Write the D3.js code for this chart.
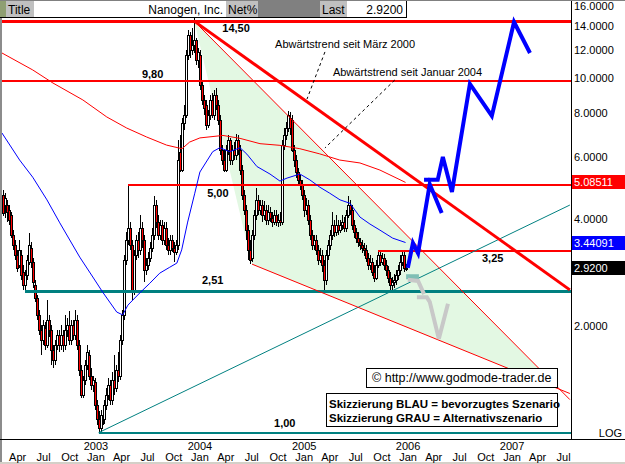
<!DOCTYPE html>
<html>
<head>
<meta charset="utf-8">
<title>Nanogen, Inc.</title>
<script src="https://cdn.jsdelivr.net/npm/d3@7/dist/d3.min.js"></script>
<style>
	body { margin:0; background:#fff }
	svg { display:block; font-family:'Liberation Sans', Arial, sans-serif }
</style>
</head>
<body>
<script>
//----
//Data
//----
var title = 'Nanogen, Inc.'
var lastClose = 2.92
var firstWeek = '2002-02-08'

//weekly candles [open, high, low, close]
var ohlc = [
	[4.68,4.84,4.09,4.17],[4.39,4.74,4.04,4.60],[4.39,4.54,3.93,4.20],[4.25,4.39,3.86,3.98],[4.12,4.20,3.54,3.61],
	[3.61,3.73,3.28,3.38],[3.38,3.50,3.07,3.17],[3.17,3.28,2.84,2.92],[2.97,3.50,2.92,3.28],[3.17,3.28,2.70,2.79],
	[2.84,2.97,2.53,2.61],[2.61,2.88,2.51,2.79],[2.79,3.17,2.70,3.07],[3.03,3.66,2.97,3.38],[3.32,3.45,2.92,3.03],
	[3.03,3.11,2.56,2.66],[2.61,2.70,2.34,2.40],[2.40,2.45,2.08,2.15],[2.15,2.22,1.89,1.95],[1.95,2.01,1.66,1.83],
	[1.83,2.08,1.77,2.01],[1.98,2.05,1.71,1.77],[1.77,2.37,1.73,2.08],[2.08,2.15,1.86,1.95],[1.95,2.01,1.55,1.71],
	[1.71,1.77,1.52,1.60],[1.60,1.83,1.55,1.77],[1.77,1.95,1.71,1.89],[1.89,1.95,1.69,1.77],[1.77,2.01,1.71,1.89],
	[1.89,1.95,1.69,1.77],[1.77,2.15,1.71,1.95],[1.95,2.11,1.86,2.01],[2.01,2.20,1.77,1.83],[1.83,2.08,1.77,2.01],
	[2.01,2.08,1.83,1.89],[1.89,2.22,1.83,2.08],[2.08,2.15,1.71,1.77],[1.77,1.83,1.45,1.50],[1.50,1.55,1.25,1.28],
	[1.28,1.45,1.25,1.41],[1.41,1.60,1.36,1.55],[1.55,1.77,1.50,1.69],[1.66,1.71,1.41,1.45],[1.45,1.52,1.32,1.36],
	[1.36,1.45,1.30,1.41],[1.39,1.43,1.16,1.20],[1.20,1.24,1.05,1.09],[1.09,1.15,1.00,1.03],[1.03,1.16,1.00,1.12],
	[1.12,1.18,1.05,1.09],[1.09,1.24,1.06,1.20],[1.20,1.34,1.16,1.28],[1.28,1.43,1.24,1.36],[1.36,1.41,1.20,1.24],
	[1.24,1.48,1.20,1.41],[1.41,1.66,1.28,1.34],[1.34,1.55,1.30,1.50],[1.50,1.69,1.39,1.45],[1.45,1.89,1.41,1.83],
	[1.83,2.22,1.77,2.15],[2.15,3.17,2.08,3.07],[3.07,3.68,2.97,3.50],[3.50,5.00,3.38,3.78],[3.78,3.93,3.28,3.38],
	[3.38,3.50,2.37,2.53],[2.53,3.28,2.45,3.17],[3.17,3.61,3.07,3.50],[3.50,3.68,3.11,3.28],[3.28,4.12,3.17,3.78],
	[3.78,3.93,3.32,3.50],[3.50,3.61,2.66,2.88],[2.88,3.11,2.79,2.97],[2.97,3.23,2.88,3.11],[3.11,3.45,3.03,3.32],
	[3.32,3.78,3.23,3.61],[3.61,4.66,3.50,4.39],[4.39,4.54,3.78,3.93],[3.93,4.12,3.50,3.61],[3.61,3.98,3.50,3.86],
	[3.86,3.98,3.38,3.50],[3.50,3.93,3.38,3.78],[3.78,3.93,3.28,3.38],[3.38,3.54,3.17,3.28],[3.28,3.61,3.17,3.50],
	[3.50,3.61,3.23,3.32],[3.32,3.45,3.03,3.23],[3.23,3.50,3.17,3.38],[3.38,6.70,3.28,5.88],[6.20,6.92,5.44,5.51],
	[5.51,7.73,5.44,7.48],[7.48,8.41,7.15,7.88],[7.88,12.02,7.73,11.64],[11.64,13.69,11.26,13.25],[13.25,13.52,11.41,12.02],
	[12.02,13.87,11.64,12.42],[12.42,15.00,11.80,12.83],[12.83,13.00,10.90,11.26],[11.26,12.20,10.70,11.90],[11.64,12.02,9.27,9.57],
	[9.57,9.89,8.41,8.69],[8.69,8.97,7.88,8.25],[8.41,8.69,7.15,7.38],[7.38,8.14,7.24,7.88],[7.88,8.97,7.63,8.69],
	[8.69,9.09,7.73,7.88],[7.88,9.27,7.63,8.97],[8.97,9.39,8.14,8.41],[8.41,8.69,7.38,7.63],[7.63,7.88,6.07,6.27],
	[6.27,6.48,5.69,5.88],[5.88,6.27,5.44,5.51],[5.51,6.48,5.44,6.27],[6.27,6.92,6.07,6.70],[6.70,6.80,5.69,5.88],
	[5.88,6.48,5.69,6.27],[6.27,6.61,5.88,6.07],[6.07,6.97,5.88,6.70],[6.70,6.92,6.07,6.27],[6.27,6.48,5.33,5.51],
	[5.51,5.69,4.54,4.68],[4.68,4.84,4.12,4.25],[4.25,4.39,3.50,3.73],[3.73,3.86,3.07,3.28],[3.28,3.50,2.99,3.07],
	[3.11,3.73,3.03,3.61],[3.61,4.25,3.50,4.12],[4.12,4.90,3.98,4.54],[4.54,4.68,4.12,4.25],[4.25,4.54,4.12,4.39],
	[4.39,4.54,3.93,4.12],[4.12,4.51,3.98,4.25],[4.25,4.39,3.86,3.98],[3.98,4.39,3.86,4.20],[4.20,4.33,3.93,4.04],
	[4.04,4.20,3.81,3.93],[3.93,4.25,3.86,4.12],[4.12,4.25,3.83,3.93],[3.93,4.14,3.81,3.98],[3.98,4.20,3.83,3.93],
	[3.93,6.70,3.86,6.48],[6.48,7.24,6.27,6.92],[6.92,7.53,6.70,7.24],[7.24,8.09,7.06,7.88],[7.73,8.03,6.92,7.24],
	[7.63,7.88,6.20,6.27],[6.27,6.48,5.62,5.88],[5.88,6.07,5.23,5.44],[5.44,5.58,5.00,5.17],[5.17,5.33,4.84,5.00],
	[5.00,5.17,4.54,4.68],[4.68,4.84,4.06,4.25],[4.25,4.60,4.12,4.39],[4.39,4.54,3.86,3.98],[3.98,4.12,3.50,3.61],
	[3.61,3.73,3.28,3.38],[3.38,3.61,3.28,3.50],[3.50,3.61,3.17,3.28],[3.28,3.38,2.97,3.07],[3.07,3.32,3.01,3.17],
	[3.17,3.28,2.84,2.97],[2.97,3.07,2.51,2.70],[2.70,3.28,2.61,3.17],[3.17,3.50,3.07,3.38],[3.38,3.73,3.28,3.61],
	[3.61,4.20,3.50,3.86],[3.86,3.98,3.57,3.68],[3.68,4.12,3.59,3.86],[3.86,3.98,3.61,3.73],[3.73,3.98,3.66,3.86],
	[3.86,4.12,3.73,3.93],[3.93,4.06,3.68,3.78],[3.78,4.25,3.68,4.12],[4.12,4.66,4.04,4.39],[4.39,4.54,4.12,4.25],
	[4.25,4.39,3.73,3.86],[3.86,3.98,3.54,3.68],[3.68,3.78,3.43,3.54],[3.54,3.68,3.35,3.45],[3.45,3.54,3.28,3.38],
	[3.38,3.50,3.21,3.32],[3.32,3.43,3.15,3.28],[3.28,3.38,3.03,3.11],[3.11,3.21,2.88,2.97],[2.97,3.17,2.88,3.03],
	[3.03,3.11,2.77,2.84],[2.84,2.97,2.66,2.73],[2.73,3.07,2.70,2.97],[2.97,3.25,2.92,3.17],[3.17,3.23,2.95,3.03],
	[3.03,3.21,2.97,3.11],[3.11,3.19,2.88,2.97],[2.97,3.07,2.77,2.88],[2.88,2.95,2.64,2.73],[2.73,2.84,2.53,2.61],
	[2.61,2.75,2.51,2.66],[2.66,2.81,2.56,2.70],[2.70,2.88,2.61,2.79],[2.79,2.97,2.70,2.88],[2.88,3.17,2.79,3.03],
	[3.03,3.23,2.95,3.17],[3.17,3.23,2.84,2.92],[2.92,3.00,2.86,2.92]
]

//moving averages [date, value]
var maRed = [
	['2002-02-05',11.79],['2002-05-24',10.56],['2002-08-03',9.70],['2002-11-16',8.69],['2003-02-08',7.78],
	['2003-04-19',7.24],['2003-06-28',6.83],['2003-09-06',6.48],['2003-10-30',6.33],['2003-11-26',6.61],
	['2004-01-01',6.79],['2004-03-22',6.90],['2004-05-21',6.77],['2004-07-30',6.54],['2004-10-08',6.47],
	['2004-12-17',6.33],['2005-02-25',6.12],['2005-05-06',5.88],['2005-07-16',5.77],['2005-09-24',5.51],
	['2005-12-23',5.08511]
]
var maBlue = [
	['2002-02-05',7.01],['2002-04-08',5.88],['2002-05-24',5.26],['2002-07-13',4.54],['2002-08-27',3.91],
	['2002-11-05',3.13],['2002-12-21',2.75],['2003-01-25',2.49],['2003-03-15',2.19],['2003-04-05',2.15],
	['2003-04-23',2.29],['2003-06-04',2.48],['2003-07-09',2.64],['2003-08-13',2.82],['2003-09-17',2.93],
	['2003-10-12',3.01],['2003-10-29',3.28],['2003-11-19',3.93],['2003-12-14',4.74],['2004-01-01',5.44],
	['2004-02-15',6.21],['2004-03-11',6.37],['2004-04-15',6.21],['2004-05-21',6.37],['2004-06-14',6.11],
	['2004-07-19',5.64],['2004-09-03',5.37],['2004-10-08',5.13],['2004-11-02',5.23],['2004-12-17',5.37],
	['2005-01-21',5.17],['2005-02-25',4.93],['2005-04-01',4.74],['2005-05-07',4.54],['2005-06-11',4.44],
	['2005-07-16',4.06],['2005-08-20',3.88],['2005-09-24',3.73],['2005-11-08',3.54],['2005-12-23',3.44091]
]

//horizontal support / resistance levels
var redLevels = [14.5, 9.8, 5.0, 3.25]
var redLevelFrom = [null, null, '2003-04-25', '2005-09-16']
var tealLevels = [2.51, 1.0]
var tealLevelFrom = ['2002-04-26', '2003-01-10']
var levelNames = ['14,50', '9,80', '5,00', '3,25', '2,51', '1,00']

//trend lines [date, value]
var trendMaerz2000 = [['2003-12-12',14.5],['2007-07-23',2.53]]
var trendJanuar2004 = [['2003-12-12',14.5],['2007-07-23',1.24]]
var trendLower = [['2004-07-02',2.99],['2007-07-23',1.29]]
var trendUp = [['2003-01-10',1.0],['2007-07-23',4.39]]
var channel = [['2003-12-12',14.5],['2004-07-02',2.99],['2007-06-14',1.33]]

//scenario sketches
var blueA = [['2005-12-31',2.92],['2006-01-18',3.43],['2006-02-05',3.21],['2006-03-18',5.03],['2006-04-29',4.17]]
var blueB = [['2006-02-26',5.17],['2006-04-15',5.17],['2006-05-03',6.00],['2006-06-04',4.78],['2006-08-06',9.64],
	['2006-10-22',7.83],['2007-01-08',14.42],['2007-03-05',11.79]]
var grayA = [['2005-12-31',2.70],['2006-02-05',2.68],['2006-02-26',2.46]]
var grayB = [['2006-02-01',2.41],['2006-03-08',2.41],['2006-03-18',2.34],['2006-04-19',1.84],['2006-05-21',2.31]]
var tealZone = [['2005-12-25',2.80],['2006-02-08',2.71]]

//annotation leaders
var leaderMaerz = [['2005-03-15',11.87],['2005-01-11',8.74]]
var leaderJanuar = [['2005-11-15',9.89],['2005-03-15',6.36]]
var noteTexts = ['Abwärtstrend seit März 2000', 'Abwärtstrend seit Januar 2004']

var yTicks = [16, 14, 12, 10, 8, 6, 4, 2]
var monthNames = ['Jan','Feb','Mar','Apr','May','Jun','Jul','Aug','Sep','Oct','Nov','Dec']
var credit = '\u00a9 http://www.godmode-trader.de'
var legendLines = ['Skizzierung BLAU = bevorzugtes Szenario', 'Skizzierung GRAU = Alternativszenario']

//------
//Layout
//------
var W = 625, H = 464
var plotL = 2, plotR = 571, plotB = 439
var parse = d3.timeParse('%Y-%m-%d')

var x = d3.scaleTime()
	.domain([new Date(2002,0,1), new Date(2008,0,1)])
	.range([-8, 616])
var y = d3.scaleLog()
	.domain([1, 16])
	.range([432.7, 6])

var line = d3.line()
	.x(function(d){ return x(parse(d[0])) })
	.y(function(d){ return y(d[1]) })

var svg = d3.select('body').append('svg')
	.attr('width', W)
	.attr('height', H)

svg.append('rect').attr('width', W).attr('height', H).attr('fill', '#fff')

svg.append('clipPath').attr('id','clip')
	.append('rect').attr('x', plotL).attr('y', 0).attr('width', plotR - plotL).attr('height', plotB)

var gPlot = svg.append('g').attr('clip-path','url(#clip)')

//Green channel
gPlot.append('path')
	.attr('d', line(channel) + 'Z')
	.attr('fill', '#e3f8e3')

//Candles
var candles = ohlc.map(function(d, i){
	return { date: d3.timeDay.offset(parse(firstWeek), 7 * i), o: d[0], h: d[1], l: d[2], c: d[3] }
})
var gCandle = gPlot.append('g').attr('shape-rendering','crispEdges')
candles.forEach(function(d){
	var px = Math.round(x(d.date))
	var top = Math.round(y(Math.max(d.o, d.c)))
	var bot = Math.round(y(Math.min(d.o, d.c)))
	var g = gCandle.append('g')
	g.append('line')
		.attr('x1', px + 0.5).attr('x2', px + 0.5)
		.attr('y1', Math.round(y(d.h))).attr('y2', Math.round(y(d.l)))
		.attr('stroke', '#000')
	g.append('rect')
		.attr('x', px - 0.5).attr('width', 2)
		.attr('y', top + 0.5).attr('height', Math.max(1, bot - top))
		.attr('fill', d.c < d.o ? '#ff0000' : '#fff')
		.attr('stroke', '#000')
})

//Horizontal levels, drawn as filled bands so they stay crisp
function hLine(v, from, color, width){
	var x0 = from ? Math.round(x(parse(from))) : plotL
	var yy = Math.round(y(v) - width / 2)
	gPlot.append('rect')
		.attr('x', x0).attr('width', plotR - x0)
		.attr('y', yy).attr('height', width)
		.attr('fill', color)
}
redLevels.forEach(function(v, i){ hLine(v, redLevelFrom[i], '#ff0000', i == 0 ? 3 : 2) })
hLine(tealLevels[0], tealLevelFrom[0], '#008080', 3)
hLine(tealLevels[1], tealLevelFrom[1], '#008080', 2)

//Moving averages
gPlot.append('path').attr('d', line(maRed)).attr('fill','none').attr('stroke','#ff0000').attr('stroke-width',1)
gPlot.append('path').attr('d', line(maBlue)).attr('fill','none').attr('stroke','#0000ff').attr('stroke-width',1)

//Trend lines
gPlot.append('path').attr('d', line(trendUp)).attr('fill','none').attr('stroke','#008080').attr('stroke-width',1)
gPlot.append('path').attr('d', line(trendLower)).attr('fill','none').attr('stroke','#ff0000').attr('stroke-width',1)
gPlot.append('path').attr('d', line(trendJanuar2004)).attr('fill','none').attr('stroke','#ff0000').attr('stroke-width',1)
gPlot.append('path').attr('d', line(trendMaerz2000)).attr('fill','none').attr('stroke','#ff0000').attr('stroke-width',3)

//Scenario sketches
var z0 = tealZone[0], z1 = tealZone[1]
gPlot.append('rect')
	.attr('x', x(parse(z0[0]))).attr('width', x(parse(z1[0])) - x(parse(z0[0])))
	.attr('y', y(z0[1])).attr('height', y(z1[1]) - y(z0[1]))
	.attr('fill', '#7fbfb4')
;[grayA, grayB].forEach(function(s){
	gPlot.append('path').attr('d', line(s)).attr('fill','none')
		.attr('stroke','#c8c8c8').attr('stroke-width',4).attr('stroke-linejoin','miter')
})
;[blueA, blueB].forEach(function(s){
	gPlot.append('path').attr('d', line(s)).attr('fill','none')
		.attr('stroke','#0000ff').attr('stroke-width',4).attr('stroke-linejoin','miter')
})

//Leaders and notes
;[leaderMaerz, leaderJanuar].forEach(function(s){
	gPlot.append('path').attr('d', line(s)).attr('fill','none')
		.attr('stroke','#000').attr('stroke-width',1).attr('stroke-dasharray','3,3')
})
var notePos = [['2004-09-21', 12.18], ['2005-04-12', 10.15]]
noteTexts.forEach(function(t, i){
	gPlot.append('text')
		.attr('x', x(parse(notePos[i][0]))).attr('y', y(notePos[i][1]))
		.attr('font-size', 11).text(t)
})

//Level labels: [date of centre, value, dy]
var levelLabelPos = [
	['2004-05-07', redLevels[0], 11],
	['2003-07-19', redLevels[1], -3],
	['2004-03-04', redLevels[2], 12],
	['2006-10-25', redLevels[3], 11],
	['2004-02-15', tealLevels[0], -7],
	['2004-10-25', tealLevels[1], -6]
]
levelNames.forEach(function(t, i){
	var p = levelLabelPos[i]
	gPlot.append('text')
		.attr('x', x(parse(p[0]))).attr('y', y(p[1]) + p[2])
		.attr('text-anchor','middle').attr('font-size', 11).attr('font-weight','bold')
		.text(t)
})

//Text boxes
svg.append('rect').attr('x', 366.5).attr('y', 368.5).attr('width', 191).attr('height', 19)
	.attr('fill','#fff').attr('stroke','#000').attr('shape-rendering','crispEdges')
svg.append('text').attr('x', 372).attr('y', 382).attr('font-size', 12.5).text(credit)

svg.append('rect').attr('x', 326.5).attr('y', 393.5).attr('width', 231).attr('height', 33)
	.attr('fill','#fff').attr('stroke','#000').attr('shape-rendering','crispEdges')
legendLines.forEach(function(t, i){
	svg.append('text').attr('x', 329).attr('y', 408 + i * 14)
		.attr('font-size', 11.5).attr('font-weight','bold').text(t)
})

//-----
//Frame
//-----
svg.append('rect').attr('x', 0).attr('y', 0).attr('width', 2).attr('height', H).attr('fill', '#8c8c8c')
svg.append('line').attr('x1', plotR + 0.5).attr('x2', plotR + 0.5).attr('y1', 0).attr('y2', plotB)
	.attr('stroke','#000').attr('shape-rendering','crispEdges')
svg.append('line').attr('x1', 0).attr('x2', W).attr('y1', plotB + 0.5).attr('y2', plotB + 0.5)
	.attr('stroke','#000').attr('shape-rendering','crispEdges')
svg.append('rect').attr('x', 0).attr('y', H - 2).attr('width', W).attr('height', 2).attr('fill', '#d4d0c8')

//Right axis
var gY = svg.append('g').attr('font-size', 11)
yTicks.forEach(function(v){
	gY.append('text').attr('x', plotR + 3).attr('y', y(v)).attr('dy', '0.35em').text(v.toFixed(4))
})
var markers = [[maRed[maRed.length - 1][1], '#ff0000', 5], [maBlue[maBlue.length - 1][1], '#0000ff', 5], [lastClose, '#000', 4]]
markers.forEach(function(m){
	var yy = Math.round(y(m[0]))
	gY.append('rect').attr('x', plotR + 1).attr('y', yy - 7).attr('width', W - plotR - 1).attr('height', 14).attr('fill', m[1])
	gY.append('text').attr('x', plotR + 3).attr('y', yy).attr('dy', '0.35em').attr('fill', '#fff').text(m[0].toFixed(m[2]))
})
gY.append('text').attr('x', W - 3).attr('y', 437).attr('text-anchor','end').text('LOG')

//Time axis
var gX = svg.append('g').attr('font-size', 11).attr('text-anchor','middle')
d3.timeMonth.every(3).range(new Date(2002,3,1), new Date(2007,7,1)).forEach(function(d){
	var xx = x(d)
	gX.append('text').attr('x', xx).attr('y', 461).text(monthNames[d.getMonth()])
	if ( d.getMonth() == 0 ){
		gX.append('text').attr('x', xx).attr('y', 450).text(d.getFullYear())
	}
})

//------
//Header
//------
var hdr = svg.append('g').attr('font-size', 12)
var cells = [[0, 6, '#8f9f72'], [6, 34, '#c0c0c0'], [34, 226, '#fff'], [226, 258, '#c0c0c0'],
	[258, 320, '#808080'], [320, 347, '#c0c0c0'], [347, 406, '#fff']]
cells.forEach(function(c){
	hdr.append('rect').attr('x', c[0]).attr('y', 1).attr('width', c[1] - c[0]).attr('height', 16).attr('fill', c[2])
})
hdr.append('rect').attr('x', 0).attr('y', 0).attr('width', W).attr('height', 1).attr('fill', '#808080')
hdr.append('path').attr('d', 'M0,17.5H406.5V1').attr('fill','none').attr('stroke','#000').attr('shape-rendering','crispEdges')
hdr.append('text').attr('x', 8).attr('y', 14).text('Title')
hdr.append('text').attr('x', 223).attr('y', 14).attr('text-anchor','end').text(title)
hdr.append('text').attr('x', 228).attr('y', 14).text('Net%')
hdr.append('text').attr('x', 322).attr('y', 14).text('Last')
hdr.append('text').attr('x', 403).attr('y', 14).attr('text-anchor','end').text(lastClose.toFixed(4))
</script>
</body>
</html>
